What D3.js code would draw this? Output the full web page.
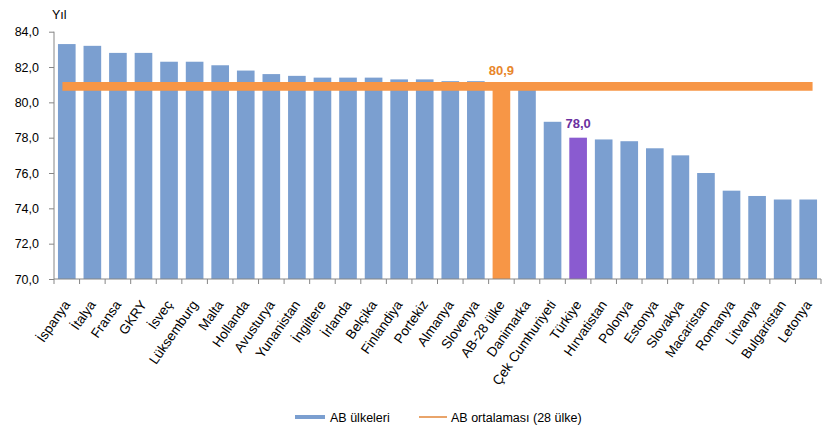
<!DOCTYPE html>
<html><head><meta charset="utf-8">
<script src="https://cdn.jsdelivr.net/npm/d3@7"></script>
<style>
html,body{margin:0;padding:0;background:#fff;}
text{font-family:"Liberation Sans",Arial,sans-serif;}
</style></head>
<body>
<svg id="chart" width="832" height="433"></svg>
<script>
const categories = ["İspanya","İtalya","Fransa","GKRY","İsveç","Lüksemburg","Malta","Hollanda","Avusturya","Yunanistan","İngiltere","İrlanda","Belçika","Finlandiya","Portekiz","Almanya","Slovenya","AB-28 ülke","Danimarka","Çek Cumhuriyeti","Türkiye","Hırvatistan","Polonya","Estonya","Slovakya","Macaristan","Romanya","Litvanya","Bulgaristan","Letonya"];
const values = [83.3,83.2,82.8,82.8,82.3,82.3,82.1,81.8,81.6,81.5,81.4,81.4,81.4,81.3,81.3,81.2,81.2,80.9,80.7,78.9,78.0,77.9,77.8,77.4,77.0,76.0,75.0,74.7,74.5,74.5];
const euAverage = 80.9;
const yTicks = [70,72,74,76,78,80,82,84];
const highlight = {"AB-28 ülke":"#F79646","Türkiye":"#8A5BD0"};
const seriesNames = ["AB ülkeleri","AB ortalaması (28 ülke)"];

(function(){
const svg = d3.select("#chart");
const pL = 54, pR = 821, pT = 31.7, pB = 279;
const x = d3.scaleBand().domain(categories).range([pL, pR]).paddingInner(0).paddingOuter(0);
const y = d3.scaleLinear().domain([70, 84]).range([pB, pT]);
const barW = x.bandwidth() * 0.69;
const fmt = v => d3.format(".1f")(v).replace(".", ",");

// bars
svg.append("g").selectAll("rect").data(categories).join("rect")
  .attr("x", d => x(d) + (x.bandwidth() - barW) / 2)
  .attr("width", barW)
  .attr("y", (d,i) => y(values[i]))
  .attr("height", (d,i) => y(70) - y(values[i]))
  .attr("fill", d => highlight[d] || "#7B9FD0");

// average line
const line = d3.line().x(d => x(d) + x.bandwidth()/2).y(() => y(euAverage));
svg.append("path").datum(categories).attr("d", line)
  .attr("fill","none").attr("stroke","#F79646").attr("stroke-width",8.7).attr("stroke-linecap","square");

// y axis
const yAxis = d3.axisLeft(y).tickValues(yTicks).tickFormat(fmt).tickSize(5).tickPadding(6);
const gy = svg.append("g").attr("transform",`translate(${pL},0)`).call(yAxis);
gy.select(".domain").attr("stroke","#868686").attr("d",`M0,${pT}V${pB}`);
gy.selectAll(".tick line").attr("stroke","#868686");
gy.selectAll(".tick text").attr("fill","#000").style("font-size","12.5px").style("font-family","Liberation Sans, Arial, sans-serif").attr("x",-15);

// x axis
const gx = svg.append("g").attr("transform",`translate(0,${pB})`);
gx.append("line").attr("x1",pL).attr("x2",pR).attr("y1",0).attr("y2",0).attr("stroke","#868686");
const edges = categories.map(c => x(c)).concat([pR]);
gx.selectAll(".tk").data(edges).join("line").attr("class","tk")
  .attr("x1",d=>d).attr("x2",d=>d).attr("y1",0).attr("y2",5).attr("stroke","#868686");
gx.selectAll(".lbl").data(categories).join("text").attr("class","lbl")
  .attr("transform", d => `translate(${x(d) + x.bandwidth()/2 + 4},${25.5}) rotate(-55)`)
  .attr("text-anchor","end").style("font-size","13.5px").attr("fill","#000")
  .text(d => d);

// axis title
svg.append("text").attr("x",52).attr("y",19).style("font-size","12.5px").text("Yıl");

// value labels
const iAvg = categories.indexOf("AB-28 ülke");
svg.append("text").attr("x", x(categories[iAvg]) + x.bandwidth()/2).attr("y", y(euAverage) - 11)
  .attr("text-anchor","middle").style("font-size","13px").style("font-weight","bold").attr("fill","#E8862B")
  .text(fmt(euAverage));
const iTr = categories.indexOf("Türkiye");
svg.append("text").attr("x", x(categories[iTr]) + x.bandwidth()/2).attr("y", y(values[iTr]) - 10)
  .attr("text-anchor","middle").style("font-size","13px").style("font-weight","bold").attr("fill","#6B30A0")
  .text(fmt(values[iTr]));

// legend
const lg = svg.append("g");
lg.append("rect").attr("x",295).attr("y",415).attr("width",30).attr("height",4).attr("fill","#7B9FD0");
lg.append("text").attr("x",330).attr("y",422).style("font-size","12.5px").text(seriesNames[0]);
lg.append("line").attr("x1",419).attr("x2",447).attr("y1",417).attr("y2",417).attr("stroke","#E9A46A").attr("stroke-width",2);
lg.append("text").attr("x",451).attr("y",422).style("font-size","12.5px").text(seriesNames[1]);
})();
</script>
</body></html>
